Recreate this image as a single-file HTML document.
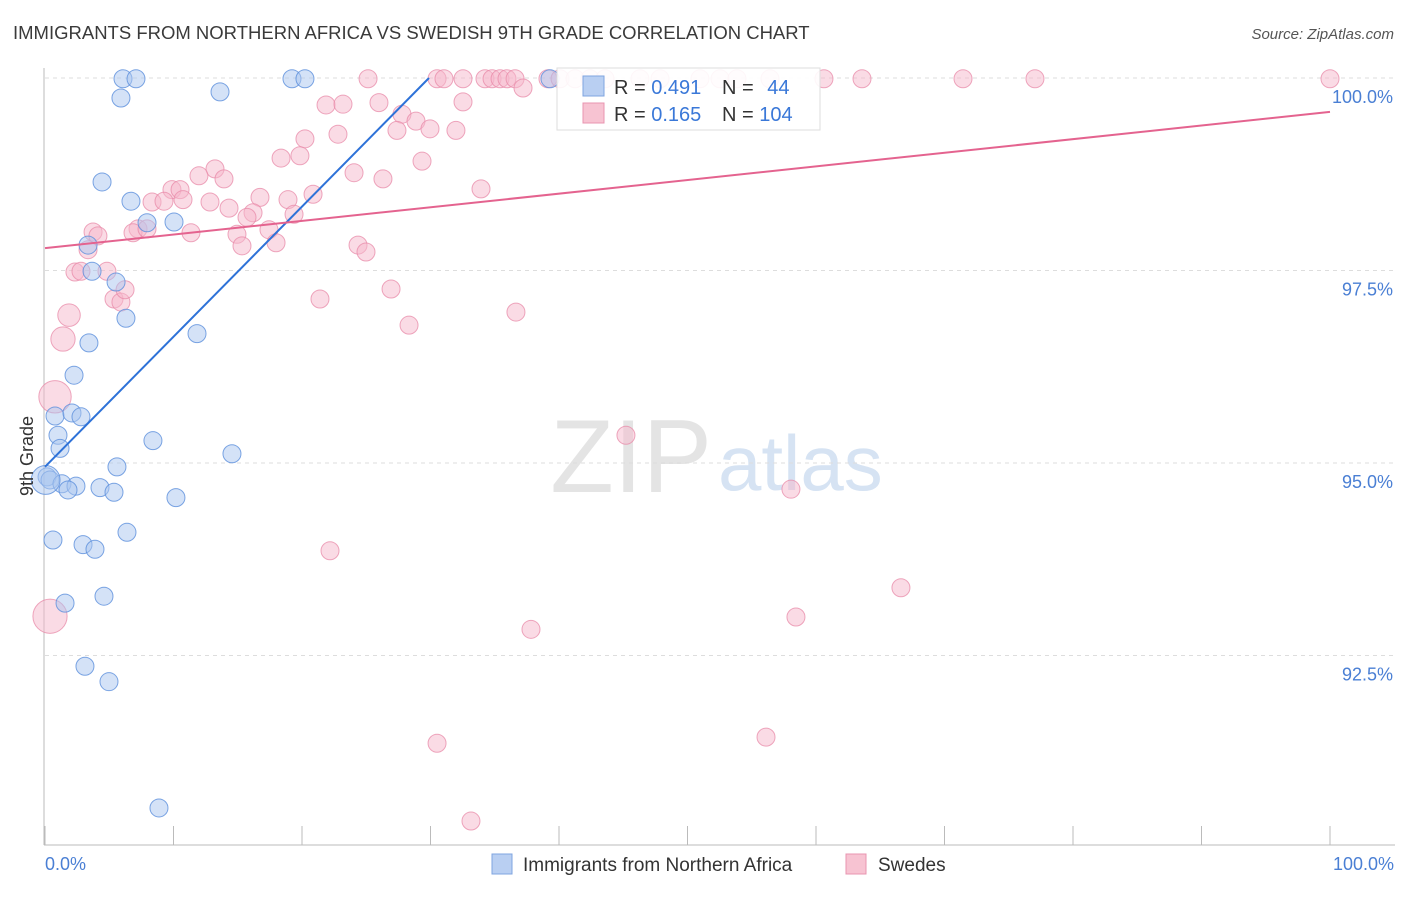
<!DOCTYPE html>
<html><head><meta charset="utf-8"><style>
body{margin:0;background:#fff;font-family:"Liberation Sans",sans-serif;}
svg text{font-family:"Liberation Sans",sans-serif;}
</style></head><body>
<svg id="chart" width="1406" height="892" xmlns="http://www.w3.org/2000/svg">
<text x="13" y="39" font-size="18.5" fill="#3a3a3a">IMMIGRANTS FROM NORTHERN AFRICA VS SWEDISH 9TH GRADE CORRELATION CHART</text>
<text x="1394" y="39" font-size="15" fill="#555" text-anchor="end" font-style="italic">Source: ZipAtlas.com</text>
<text x="712" y="492" font-size="104" fill="#e4e4e4" font-family="Liberation Serif" text-anchor="end">ZIP</text>
<text x="718" y="490" font-size="78" fill="#d6e3f3">atlas</text>
<g id="grid"></g>
<g id="axes"></g>
<g id="pts"></g>
<g id="lines"></g>
<text transform="translate(33,456) rotate(-90)" font-size="18" fill="#333" text-anchor="middle">9th Grade</text>
<text x="45" y="870" font-size="18" fill="#4a7fd4">0.0%</text>
<text x="1394" y="870" font-size="18" fill="#4a7fd4" text-anchor="end">100.0%</text>
<g>
<rect x="492" y="854" width="20" height="20" fill="#b9cff2" stroke="#7fa4e0"/>
<text x="523" y="871" font-size="19" fill="#333">Immigrants from Northern Africa</text>
<rect x="846" y="854" width="20" height="20" fill="#f7c3d2" stroke="#e895b0"/>
<text x="878" y="871" font-size="19" fill="#333">Swedes</text>
</g>
<g>
<rect x="557" y="68" width="263" height="62" fill="#fff" fill-opacity="0.9" stroke="#ddd"/>
<rect x="583" y="76" width="21" height="20" fill="#b9cff2" stroke="#7fa4e0"/>
<rect x="583" y="103" width="21" height="20" fill="#f7c3d2" stroke="#e895b0"/>
<text x="614" y="94" font-size="20" fill="#333">R = <tspan fill="#3a78d8">0.491</tspan></text>
<text x="722" y="94" font-size="20" fill="#333">N = <tspan fill="#3a78d8" dx="8">44</tspan></text>
<text x="614" y="121" font-size="20" fill="#333">R = <tspan fill="#3a78d8">0.165</tspan></text>
<text x="722" y="121" font-size="20" fill="#333">N = <tspan fill="#3a78d8">104</tspan></text>
</g>
</svg>
<script>
const yTicks=[100,97.5,95,92.5];
const yTickLabels=["100.0%","97.5%","95.0%","92.5%"];
const xTicks=[0,10,20,30,40,50,60,70,80,90,100];
const blueX=[6.07,7.08,19.22,20.23,39.3,5.91,13.62,4.44,6.69,7.94,10.04,3.35,3.66,5.53,6.30,3.42,11.83,2.26,0.78,2.10,2.80,1.01,8.40,1.17,14.55,5.60,0.16,0.39,1.32,2.41,1.79,4.28,5.37,10.19,6.38,0.62,2.96,3.89,4.59,1.56,3.11,4.98,8.87,0.05];
const blueY=[99.99,99.99,99.99,99.99,99.99,99.74,99.82,98.65,98.40,98.12,98.13,97.83,97.49,97.35,96.88,96.56,96.68,96.14,95.61,95.65,95.60,95.36,95.29,95.19,95.12,94.95,94.82,94.78,94.73,94.70,94.65,94.68,94.62,94.55,94.10,94.00,93.94,93.88,93.27,93.18,92.36,92.16,90.52,94.78];
const blueW=[1,1,1,1,1,1,1,1,1,1,1,1,1,1,1,1,1,1,1,1,1,1,1,1,1,1,1,1,1,1,1,1,1,1,1,1,1,1,1,1,1,1,1,1.6];
const pinkX=[25.14,30.51,31.05,32.53,34.24,34.79,35.41,35.95,36.58,39.14,40.08,41.25,42.41,43.58,46.30,47.86,50.97,52.53,53.85,56.42,60.62,63.58,71.44,77.04,100.0,37.2,21.87,23.19,25.99,32.53,27.78,28.87,27.39,29.96,31.98,20.23,22.80,19.84,18.37,29.34,13.23,11.98,13.93,24.05,26.30,33.93,20.86,9.88,10.51,16.73,18.91,8.33,9.26,10.74,12.84,14.32,16.19,15.72,19.38,7.24,6.85,7.94,11.36,14.94,17.43,3.74,4.12,3.35,15.33,17.98,24.36,24.98,2.33,2.80,4.82,5.37,5.91,6.23,21.40,26.93,1.87,1.40,28.33,36.65,0.78,45.21,58.05,22.18,66.61,58.44,37.82,0.39,30.51,56.11,33.15];
const pinkY=[99.99,99.99,99.99,99.99,99.99,99.99,99.99,99.99,99.99,99.99,99.99,99.99,99.99,99.99,99.99,99.99,99.99,99.99,99.99,99.99,99.99,99.99,99.99,99.99,99.99,99.87,99.65,99.66,99.68,99.69,99.53,99.44,99.32,99.34,99.32,99.21,99.27,98.99,98.96,98.92,98.82,98.73,98.69,98.77,98.69,98.56,98.49,98.55,98.55,98.45,98.42,98.39,98.40,98.42,98.39,98.31,98.25,98.19,98.23,98.04,97.99,98.04,97.99,97.97,98.03,98.00,97.95,97.77,97.82,97.86,97.83,97.74,97.48,97.49,97.49,97.13,97.09,97.25,97.13,97.26,96.92,96.61,96.79,96.96,95.86,95.36,94.66,93.86,93.38,93.00,92.84,93.01,91.36,91.44,90.35];
const pinkW=pinkX.map((x,i)=>1);
pinkW[80]=1.25;pinkW[81]=1.35;pinkW[84]=1.8;pinkW[91]=1.9;
const blueTrend=[94.95,0.169];
const pinkTrend=[97.79,0.0177];
const NS="http://www.w3.org/2000/svg";
const X0=45,X1=1330,Y100=78,PXPER=77;
function sx(v){return X0+(X1-X0)*v/100;}
function sy(v){return Y100+(100-v)*PXPER;}
function mk(tag,attrs,parent){const e=document.createElementNS(NS,tag);for(const k in attrs)e.setAttribute(k,attrs[k]);parent.appendChild(e);return e;}
const grid=document.getElementById('grid'),axes=document.getElementById('axes'),pts=document.getElementById('pts'),lines=document.getElementById('lines');
yTicks.forEach((t,i)=>{
 const l=mk('line',{x1:45,x2:1395,y1:sy(t),y2:sy(t),stroke:'#ddd','stroke-dasharray':'4,4'},grid);
 
 
 const tx=mk('text',{x:1393,y:sy(t)+25,'font-size':18,fill:'#4a7fd4','text-anchor':'end'},grid);
 tx.textContent=yTickLabels[i];
 
 
});
const ya=mk('line',{x1:44,x2:44,y1:68,y2:845,stroke:'#bbb'},axes);


const xa=mk('line',{x1:44,x2:1395,y1:845,y2:845,stroke:'#bbb'},axes);


xTicks.forEach(t=>{
 const l=mk('line',{x1:sx(t),x2:sx(t),y1:826,y2:845,stroke:'#bbb'},axes);
 
 
});
pinkX.forEach((x,i)=>{
 const c=mk('circle',{cx:sx(x),cy:sy(pinkY[i]),r:9*pinkW[i],fill:'#f5b8cb','fill-opacity':0.5,stroke:'#e88aa8','stroke-opacity':0.75,'stroke-width':1},pts);
 
 
});
blueX.forEach((x,i)=>{
 const c=mk('circle',{cx:sx(x),cy:sy(blueY[i]),r:9*blueW[i],fill:'#a9c6f0','fill-opacity':0.5,stroke:'#5b8fdc','stroke-opacity':0.8,'stroke-width':1},pts);
 
 
});
const bxEnd=(100-blueTrend[0])/blueTrend[1];
const bl=mk('line',{x1:sx(0),y1:sy(blueTrend[0]),x2:sx(bxEnd),y2:sy(100),stroke:'#2e72d8','stroke-width':2},lines);


const pl=mk('line',{x1:sx(0),y1:sy(pinkTrend[0]),x2:sx(100),y2:sy(pinkTrend[0]+100*pinkTrend[1]),stroke:'#e4638f','stroke-width':2},lines);


</script>
</body></html>
